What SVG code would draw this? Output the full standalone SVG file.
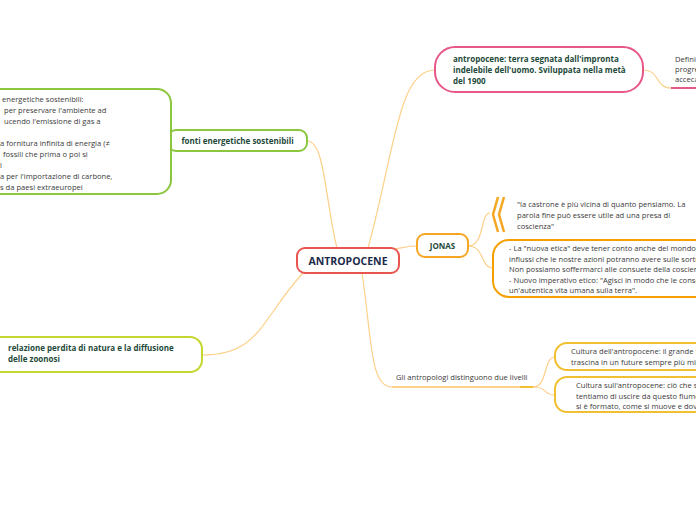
<svg xmlns="http://www.w3.org/2000/svg" width="696" height="520" viewBox="0 0 696 520">
<style>
.c{fill:none;stroke:#fdd08a;stroke-width:1.2}
.b{fill:#fff;stroke-width:2}
.t{font-family:"Open Sans","Noto Sans",sans-serif;font-size:7.6px;fill:#3a3a3a}
.h{font-family:"Open Sans","Noto Sans",sans-serif;font-size:8px;font-weight:bold;fill:#1e4a3a}
</style>
<rect width="696" height="520" fill="#fff"/>
<g id="connectors">
<path class="c" d="M307 141 C325 141 325 200 337 248"/>
<path class="c" d="M171 141 L168 141"/>
<path class="c" d="M368 248 C395 150 398 70 435 70"/>
<path class="c" d="M643 70 C660 70 655 88 671 88"/>
<path class="c" d="M395 249 C405 247 408 246 417 246"/>
<path class="c" d="M468 246 C485 246 480 213 490 213"/>
<path class="c" d="M468 246 C485 246 480 268 493 268"/>
<path class="c" d="M362 273 C372 340 370 387 392 387"/>
<path class="c" d="M533 387 C548 387 543 357 555 357"/>
<path class="c" d="M533 387 C548 387 543 395 555 395"/>
<path class="c" d="M303 273 C260 320 260 355 202 355"/>
</g>
<g id="central">
<rect class="b" x="297" y="248" width="102" height="25" rx="8" stroke="#e8554e"/>
<text x="348" y="264.5" text-anchor="middle" font-family="Open Sans, Noto Sans, sans-serif" font-size="10.5" font-weight="bold" fill="#1c2a4a">ANTROPOCENE</text>
</g>
<g id="fonti">
<rect class="b" x="168" y="130" width="139" height="21" rx="8" stroke="#8cc63f"/>
<text class="h" x="237.5" y="144" text-anchor="middle">fonti energetiche sostenibili</text>
</g>
<g id="fonti-detail">
<rect class="b" x="-20" y="89" width="191" height="105" rx="14" stroke="#8cc63f"/>
<text class="t" x="2" y="102">energetiche sostenibili:</text>
<text class="t" x="4" y="113">per preservare l'ambiente ad</text>
<text class="t" x="4" y="124">ucendo l'emissione di gas a</text>
<text class="t" x="0" y="146">a fornitura infinita di energia (≠</text>
<text class="t" x="3" y="157">fossili che prima o poi si</text>
<text class="t" x="0" y="168">l</text>
<text class="t" x="0" y="179">a per l'importazione di carbone,</text>
<text class="t" x="0" y="190">s da paesi extraeuropei</text>
</g>
<g id="antropocene-def">
<rect class="b" x="435" y="47" width="208" height="45" rx="20" stroke="#e8578a"/>
<text class="h" x="453" y="62">antropocene: terra segnata dall'impronta</text>
<text class="h" x="453" y="73">indelebile dell'uomo. Sviluppata nella metà</text>
<text class="h" x="453" y="84">del 1900</text>
</g>
<g id="definizione">
<text class="t" x="675" y="62">Defini</text>
<text class="t" x="675" y="72">progre</text>
<text class="t" x="675" y="82">acceca</text>
<line x1="671" y1="88" x2="696" y2="88" stroke="#e8578a" stroke-width="2"/>
</g>
<g id="jonas">
<rect class="b" x="417" y="234" width="51" height="23" rx="8" stroke="#f5a623"/>
<text class="h" x="442.5" y="249" text-anchor="middle">JONAS</text>
</g>
<g id="castrone">
<path d="M498 197 L493 214.5 L498 232 M504 197 L499 214.5 L504 232" fill="none" stroke="#f5a623" stroke-width="2.5"/>
<text class="t" x="517" y="207">"la castrone è più vicina di quanto pensiamo. La</text>
<text class="t" x="517" y="218">parola fine può essere utile ad una presa di</text>
<text class="t" x="517" y="229">coscienza"</text>
</g>
<g id="nuova-etica">
<rect class="b" x="493" y="240" width="230" height="57" rx="16" stroke="#f5a000"/>
<text class="t" x="509" y="251">- La "nuova etica" deve tener conto anche del mondo e</text>
<text class="t" x="509" y="261.5">influssi che le nostre azioni potranno avere sulle sorti f</text>
<text class="t" x="509" y="272">Non possiamo soffermarci alle consuete della coscienz</text>
<text class="t" x="509" y="282.5">- Nuovo imperativo etico: "Agisci in modo che le conse</text>
<text class="t" x="509" y="293">un'autentica vita umana sulla terra".</text>
</g>
<g id="antropologi">
<text class="t" x="396" y="380">Gli antropologi distinguono due livelli</text>
<line x1="392" y1="387" x2="533" y2="387" stroke="#fdd08a" stroke-width="2"/>
<line x1="520" y1="387" x2="533" y2="387" stroke="#f0c030" stroke-width="2"/>
</g>
<g id="cultura-dell">
<rect class="b" x="555" y="343" width="170" height="27" rx="12" stroke="#f0c030"/>
<text class="t" x="571" y="354">Cultura dell'antropocene: il grande fiu</text>
<text class="t" x="571" y="364.5">trascina in un future sempre più min</text>
</g>
<g id="cultura-sull">
<rect class="b" x="555" y="377" width="170" height="35" rx="12" stroke="#f0c030"/>
<text class="t" x="576" y="388">Cultura sull'antropocene: ciò che si t</text>
<text class="t" x="576" y="398.5">tentiamo di uscire da questo fiume p</text>
<text class="t" x="576" y="409">si è formato, come si muove e dove</text>
</g>
<g id="zoonosi">
<rect class="b" x="-20" y="337" width="222" height="35" rx="12" stroke="#c5d62e"/>
<text class="h" x="8" y="351">relazione perdita di natura e la diffusione</text>
<text class="h" x="8" y="362">delle zoonosi</text>
</g>
</svg>
